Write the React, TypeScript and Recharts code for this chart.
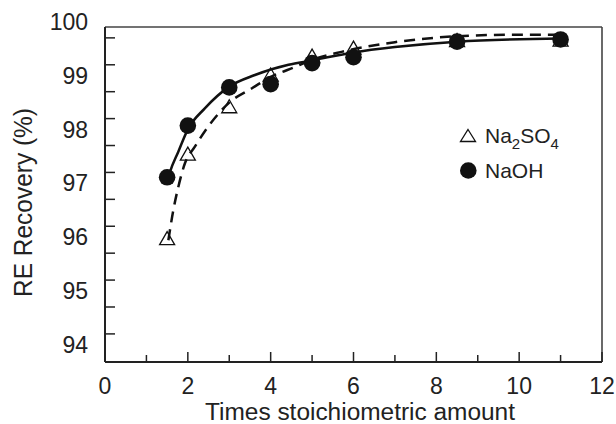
import React from 'react';
import { ComposedChart, Line, Scatter, XAxis, YAxis, Label, Customized, ReferenceLine } from 'recharts';

// Measured points (times stoichiometric amount vs RE recovery %)
const stoichX = [1.5, 2, 3, 4, 5, 6, 8.5, 11];
const naohRecovery = [97.11, 98.07, 98.78, 98.84, 99.23, 99.34, 99.63, 99.67];
const na2so4Recovery = [95.97, 97.54, 98.42, 99.01, 99.36, 99.51, 99.65, 99.66];

// Fitted curves
const naohFitX = [1.5, 1.57, 1.77, 2.0, 2.41, 2.99, 3.62, 4.43, 4.99, 6.0, 7.0, 8.5, 11];
const naohFitY = [97.02, 97.21, 97.585, 98.0, 98.39, 98.79, 99.01, 99.2, 99.28, 99.43, 99.53, 99.63, 99.69];
const na2so4FitX = [1.53, 1.65, 1.77, 1.93, 2.17, 2.49, 3.02, 3.54, 4.02, 4.59, 4.99, 5.71, 7, 8.5, 10, 11];
const na2so4FitY = [95.94, 96.5, 96.93, 97.37, 97.68, 98.05, 98.51, 98.76, 98.98, 99.16, 99.29, 99.44, 99.62, 99.73, 99.76, 99.76];

// Axes
const xMajorTicks = [0, 2, 4, 6, 8, 10, 12];
const xMinorTicks = [1, 3, 5, 7, 9, 11];
const yLabelTicks = [94, 95, 96, 97, 98, 99, 100];
const yMarkTicks = [94.2, 94.7, 95.2, 95.7, 96.2, 96.7, 97.2, 97.7, 98.2, 98.7, 99.2, 99.7];
const xDomain = [0, 12];
const yDomain = [93.678, 99.902];

const xTitle = 'Times stoichiometric amount';
const yTitle = 'RE Recovery (%)';

const FONT = '"Liberation Sans", Arial, Helvetica, sans-serif';
const INK = '#111';
const AXIS = '#222';

const toPoints = (xs: number[], ys: number[]) => xs.map((x, i) => ({ x, y: ys[i] }));

const naohPts = toPoints(stoichX, naohRecovery);
const na2so4Pts = toPoints(stoichX, na2so4Recovery);
const naohFit = toPoints(naohFitX, naohFitY);
const na2so4Fit = toPoints(na2so4FitX, na2so4FitY);

const xAllTicks = [...xMajorTicks, ...xMinorTicks].sort((a, b) => a - b);
const yAllTicks = [...yLabelTicks, ...yMarkTicks].sort((a, b) => a - b);

const X_MARGIN = 16;
const Y_MARGIN = 17;

const XTick = (p: any) => {
  const v = p.payload?.value;
  const axisY = p.y - X_MARGIN;
  const major = xMajorTicks.includes(v);
  return (
    <g>
      <line x1={p.x} x2={p.x} y1={axisY} y2={axisY - (major ? 10 : 7)} stroke={AXIS} strokeWidth={1.5} />
      {major && (
        <text x={p.x} y={axisY + 32.3} textAnchor="middle" fontSize={23} fontFamily={FONT} fill="#222">
          {v}
        </text>
      )}
    </g>
  );
};

const YTick = (p: any) => {
  const v = p.payload?.value;
  const axisX = p.x + Y_MARGIN;
  const isLabel = yLabelTicks.includes(v);
  const isMark = yMarkTicks.includes(v);
  return (
    <g>
      {isMark && <line x1={axisX} x2={axisX + 10} y1={p.y} y2={p.y} stroke={AXIS} strokeWidth={1.5} />}
      {isLabel && (
        <text x={p.x} y={p.y + 8.2} textAnchor="end" fontSize={23} fontFamily={FONT} fill="#222">
          {v}
        </text>
      )}
    </g>
  );
};

const Triangle = (p: any) => {
  const { cx, cy } = p;
  if (cx == null || cy == null) return <g />;
  return (
    <path
      d={`M${cx} ${cy - 7} L${cx + 7.5} ${cy + 6} L${cx - 7.5} ${cy + 6} Z`}
      fill="none"
      stroke={INK}
      strokeWidth={1.3}
    />
  );
};

const Dot = (p: any) => {
  const { cx, cy } = p;
  if (cx == null || cy == null) return <g />;
  return <circle cx={cx} cy={cy} r={8.3} fill={INK} />;
};

const LegendBox = () => (
  <g fontFamily={FONT}>
    <path d="M468 129.5 L475.5 141.5 L460.5 141.5 Z" fill="none" stroke={INK} strokeWidth={1.3} />
    <text x={485} y={143} fontSize={21} fill="#222">
      Na<tspan fontSize={15} dy={6}>2</tspan>
      <tspan dy={-6}>SO</tspan>
      <tspan fontSize={15} dy={6}>4</tspan>
    </text>
    <circle cx={468.3} cy={170.5} r={8.3} fill={INK} />
    <text x={485} y={178.3} fontSize={21} fill="#222">NaOH</text>
  </g>
);

const XTitle = (props: any) => {
  const vb = props.viewBox || {};
  const cx = vb.x + vb.width / 2 + 6.5;
  const y = vb.y + 58;
  return (
    <text x={cx} y={y} textAnchor="middle" fontSize={23} fontFamily={FONT} fill="#222"
      textLength={310} lengthAdjust="spacingAndGlyphs">
      {xTitle}
    </text>
  );
};

const YTitle = (props: any) => {
  const vb = props.viewBox || {};
  const x = vb.x - 13.3;
  const y = vb.y + vb.height / 2 + 8;
  return (
    <text x={x} y={y} textAnchor="middle" fontSize={25} fontFamily={FONT} fill="#222"
      transform={`rotate(-90, ${x}, ${y})`} textLength={189} lengthAdjust="spacingAndGlyphs">
      {yTitle}
    </text>
  );
};

export default function App() {
  return (
    <div style={{ position: 'absolute', left: 0, top: 0, fontFamily: FONT, background: '#fff' }}>
      <ComposedChart width={616} height={424} margin={{ top: 27, right: 14, bottom: 32, left: 45 }}>
        <XAxis
          xAxisId="main"
          dataKey="x"
          type="number"
          domain={xDomain}
          ticks={xAllTicks}
          interval={0}
          tickSize={0}
          tickMargin={X_MARGIN}
          height={30}
          axisLine={{ stroke: AXIS, strokeWidth: 2 }}
          tickLine={false}
          tick={<XTick />}
        >
          <Label content={<XTitle />} />
        </XAxis>
        <YAxis
          yAxisId="y"
          dataKey="y"
          type="number"
          domain={yDomain}
          ticks={yAllTicks}
          interval={0}
          width={60}
          tickSize={0}
          tickMargin={Y_MARGIN}
          tickLine={false}
          axisLine={{ stroke: AXIS, strokeWidth: 2 }}
          tick={<YTick />}
        >
          <Label content={<YTitle />} />
        </YAxis>
        <ReferenceLine xAxisId="main" yAxisId="y" y={yDomain[1]} stroke="#444" strokeWidth={1.6} ifOverflow="visible" />
        <ReferenceLine xAxisId="main" yAxisId="y" x={xDomain[1]} stroke="#444" strokeWidth={1.6} ifOverflow="visible" />
        <Scatter
          name="Na2SO4"
          data={na2so4Pts}
          xAxisId="main"
          yAxisId="y"
          shape={<Triangle />}
          isAnimationActive={false}
        />
        <Line
          data={na2so4Fit}
          dataKey="y"
          xAxisId="main"
          yAxisId="y"
          type="monotone"
          stroke={INK}
          strokeWidth={2.5}
          strokeDasharray="11 7"
          dot={false}
          activeDot={false}
          isAnimationActive={false}
        />
        <Line
          data={naohFit}
          dataKey="y"
          xAxisId="main"
          yAxisId="y"
          type="monotone"
          stroke={INK}
          strokeWidth={2.5}
          dot={false}
          activeDot={false}
          isAnimationActive={false}
        />
        <Scatter
          name="NaOH"
          data={naohPts}
          xAxisId="main"
          yAxisId="y"
          shape={<Dot />}
          isAnimationActive={false}
        />
        <Customized component={LegendBox} />
      </ComposedChart>
    </div>
  );
}
